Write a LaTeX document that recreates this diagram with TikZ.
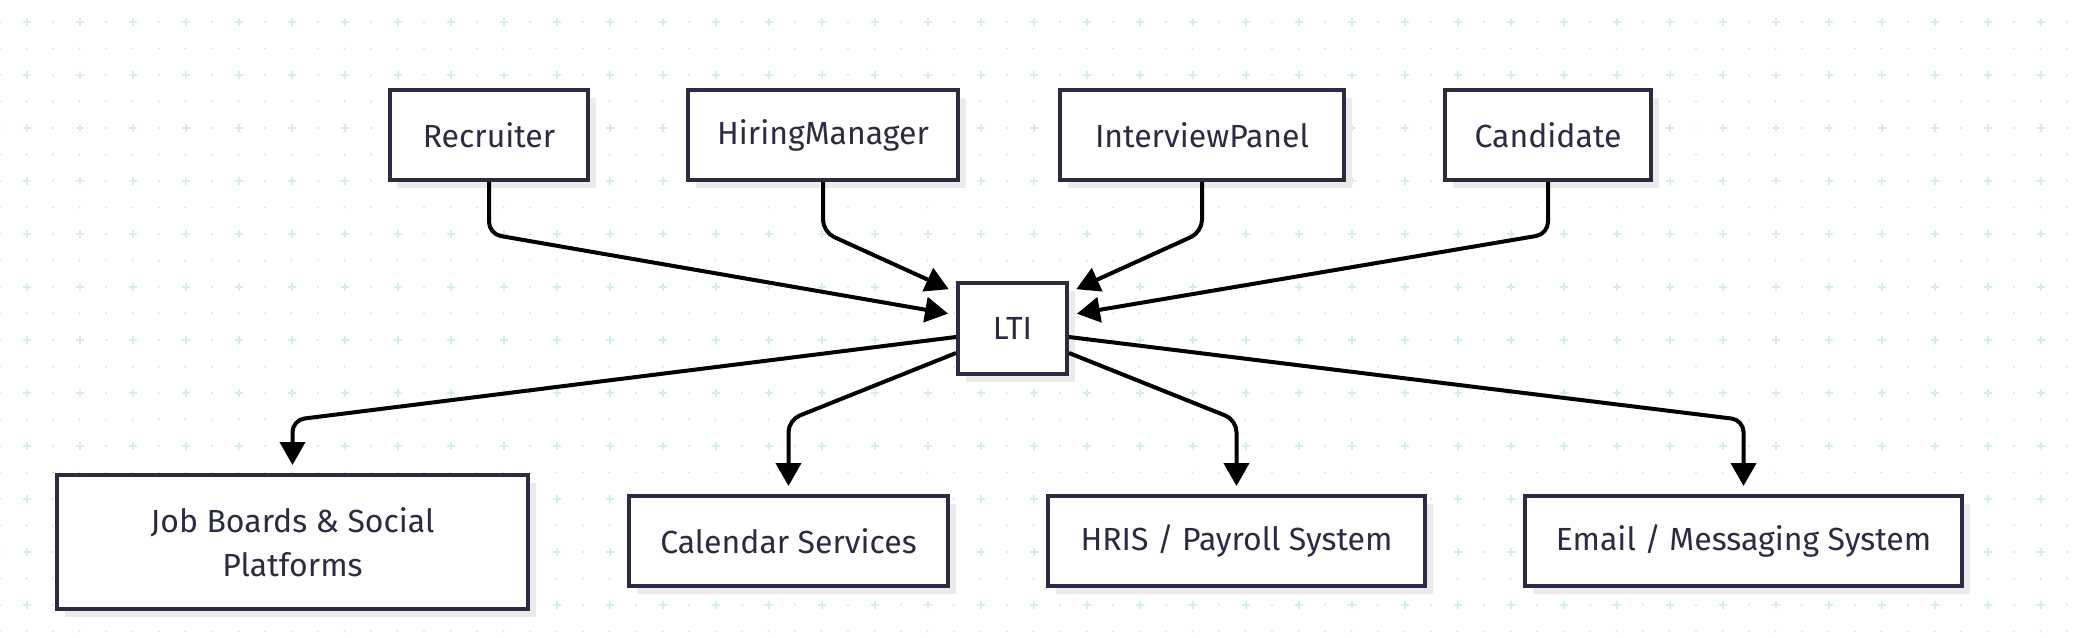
\documentclass[tikz,border=0pt]{standalone}
\usepackage{fontspec}
\setmainfont{Fira Sans}
\usetikzlibrary{arrows.meta,shadows}
\definecolor{ink}{HTML}{2B2B42}
\definecolor{gridc}{HTML}{D5ECF0}
\definecolor{shade}{HTML}{EBEBEB}
\begin{document}
\begin{tikzpicture}[x=0.5pt,y=-0.5pt,
  box/.style={draw=ink, line width=2pt, fill=white, text=ink,
    font=\fontsize{16}{22}\selectfont, inner sep=0pt, minimum height=45pt, align=center,
    drop shadow={shadow xshift=4pt, shadow yshift=-4pt, fill=shade, opacity=1}},
  link/.style={-{Triangle[length=11.5pt,width=12.5pt]}, line width=2pt, rounded corners=6pt, black, shorten >=4pt},
  dot/.style={fill=gridc},
  crossmark/.style={draw=gridc, line width=1pt}
]
\useasboundingbox (0,0) rectangle (2080,637);
% background grid
\foreach \j in {1,3,...,23}{
  \foreach \i in {0,...,78}{\fill[dot] (26.5*\i,22+26.5*\j) circle (0.7pt);}}
\foreach \j in {0,2,...,22}{
  \foreach \i in {0,2,...,78}{\fill[dot] (26.5*\i,22+26.5*\j) circle (0.7pt);}
  \foreach \i in {1,3,...,77}{\draw[crossmark] (26.5*\i-4,22+26.5*\j) -- ++(8,0) (26.5*\i,18+26.5*\j) -- ++(0,8);}}
% nodes
\node[box, minimum width=99pt] (rec) at (489,135) {Recruiter};
\node[box, minimum width=135pt] (hm) at (823,135) {HiringManager};
\node[box, minimum width=142pt] (ip) at (1202,135) {InterviewPanel};
\node[box, minimum width=103pt] (cand) at (1548,135) {Candidate};
\node[box, minimum width=54.5pt, minimum height=45.5pt] (lti) at (1012.5,328.5) {LTI};
\node[box, minimum width=235.5pt, minimum height=67pt] (jobs) at (292.5,542) {Job Boards \& Social\\Platforms};
\node[box, minimum width=159.5pt] (cal) at (788.5,541) {Calendar Services};
\node[box, minimum width=188.5pt] (hris) at (1236.5,541) {HRIS / Payroll System};
\node[box, minimum width=218.5pt] (email) at (1743.5,541) {Email / Messaging System};
% incoming
\draw[link] (rec.south) -- ++(0,52) -- ([yshift=6.75pt]lti.west);
\draw[link] (hm.south) -- ++(0,50) -- ([yshift=18pt]lti.west);
\draw[link] (ip.south) -- ++(0,50) -- ([yshift=18pt]lti.east);
\draw[link] (cand.south) -- ++(0,52) -- ([yshift=6.75pt]lti.east);
% outgoing
\draw[link] ([yshift=-4.25pt]lti.west) -- ([yshift=26.5pt]jobs.north) -- (jobs.north);
\draw[link] ([yshift=-12.25pt]lti.west) -- ([yshift=37pt]cal.north) -- (cal.north);
\draw[link] ([yshift=-12.25pt]lti.east) -- ([yshift=37pt]hris.north) -- (hris.north);
\draw[link] ([yshift=-4.25pt]lti.east) -- ([yshift=37pt]email.north) -- (email.north);
\end{tikzpicture}
\end{document}
